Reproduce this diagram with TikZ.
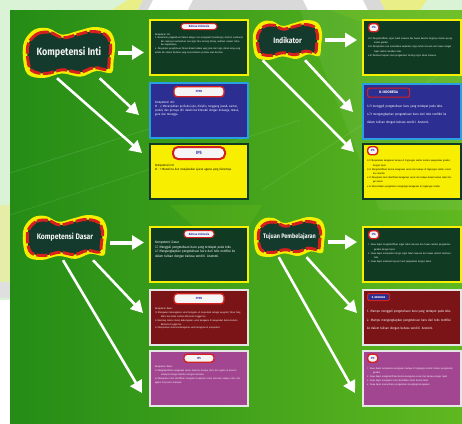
\documentclass[tikz,border=0pt]{standalone}
\usepackage{fontspec}
\setmainfont{Fira Sans}[FakeStretch=0.85]
\usetikzlibrary{positioning,calc,arrows.meta}

\definecolor{mint}{RGB}{218,243,214}
\definecolor{panelDark}{RGB}{36,140,22}
\definecolor{panelLight}{RGB}{96,184,32}
\definecolor{blobFill}{RGB}{20,58,45}
\definecolor{blobYellow}{RGB}{245,240,0}
\definecolor{blobRed}{RGB}{212,32,30}
\definecolor{boxGreen}{RGB}{16,58,34}
\definecolor{boxBlue}{RGB}{44,46,145}
\definecolor{boxSky}{RGB}{40,160,225}
\definecolor{boxYellow}{RGB}{248,238,0}
\definecolor{boxMaroon}{RGB}{122,20,22}
\definecolor{boxPurple}{RGB}{162,70,145}
\definecolor{pillText}{RGB}{50,50,170}

\newcommand{\tinytxt}{\fontsize{2.4}{3.6}\selectfont}
\newcommand{\smalltxt}{\fontsize{3.4}{4.5}\selectfont}
\newcommand{\itm}[1]{\par\hangindent=6pt\hangafter=1 #1}

\begin{document}
\begin{tikzpicture}[
    % gaya
    x=1pt, y=-1pt,
    box/.style={rectangle, minimum width=98pt, minimum height=55pt, line width=2pt, inner sep=0pt},
    box green/.style={box, fill=boxGreen, draw=blobYellow},
    box blue/.style={box, fill=boxBlue, draw=boxSky},
    box yellow/.style={box, fill=boxYellow, draw=boxGreen},
    box maroon/.style={box, fill=boxMaroon, draw=white!90!black},
    box purple/.style={box, fill=boxPurple, draw=white!90!black},
    pill/.style={rectangle, rounded corners=3pt, fill=white!92!gray, draw=blobRed, line width=1pt,
        text=pillText, font=\bfseries\fontsize{3}{3.5}\selectfont, inner sep=1pt},
    tag/.style={pill, fill=boxBlue, text=white, rounded corners=1.5pt, line width=1.2pt},
    txt/.style={text width=88pt, align=left, inner sep=0pt, text=white, font=\tinytxt},
    blob title/.style={text=white!90!gray, inner sep=0pt},
    blob ring/.style={fill=blobYellow},
    blob core/.style={fill=blobFill, draw=blobRed, line width=3pt, dash pattern=on 11pt off 2.5pt},
    arr/.style={draw=white, line width=2.6pt, -{Triangle[length=12pt,width=13pt]}},
    wide arr/.style={arr, line width=4pt, shorten <=3pt, shorten >=5pt,
        -{Triangle[length=12pt,width=14pt]}}
]
    \useasboundingbox (0,0) rectangle (462,423);

    % bentuk awan judul
    \def\blobcurve{plot[smooth cycle, tension=0.6] coordinates {(-0.97,-0.45) (-0.75,-0.9)
        (-0.45,-0.95) (-0.15,-0.7) (0.2,-0.85) (0.55,-1.0) (0.88,-0.85) (1.0,-0.35)
        (0.97,0.3) (0.92,0.8) (0.6,0.72) (0.25,0.95) (-0.15,0.82) (-0.55,1.0)
        (-0.9,0.85) (-1.0,0.2)}}

    % --- 1. Latar ---
    \fill[mint] (0,0) rectangle (462,423);
    \fill[white] (0,300) rectangle (10,423);
    \fill[gray!25] (0,282) rectangle (10,298);
    \fill[yellow!25!mint] (0,205) rectangle (10,282);
    \fill[yellow!40!mint] (112,10) -- (128,0) -- (143,0) -- (138,10) -- cycle;
    \fill[gray!30] (143,0) -- (153,0) -- (148,10) -- (138,10) -- cycle;
    \fill[white] (153,0) -- (193,0) -- (188,10) -- (148,10) -- cycle;
    \fill[gray!30] (193,0) -- (303,0) -- (308,10) -- (188,10) -- cycle;
    \fill[white] (303,0) -- (363,0) -- (368,10) -- (308,10) -- cycle;
    \fill[gray!30] (363,0) -- (380,0) -- (385,10) -- (368,10) -- cycle;
    \fill[yellow!40!mint] (380,0) -- (427,0) -- (420,10) -- (385,10) -- cycle;

    \shade[left color=panelDark, right color=panelLight] (10,10) rectangle (462,423);
    \fill[white, opacity=0.06] (300,10) -- (462,10) -- (462,210) -- (380,210) -- cycle;
    \fill[yellow!60!green, opacity=0.18] (330,10) -- (462,10) -- (462,60) -- cycle;
    \fill[yellow!60!green, opacity=0.15] (170,205) -- (262,205) -- (230,260) -- cycle;
    \draw[white, opacity=0.15, line width=0.6pt] (10,173) -- (250,97);
    \draw[white, opacity=0.12, line width=0.6pt] (10,215) -- (300,120);
    \draw[white, opacity=0.12, line width=0.6pt] (262,190) -- (462,60);

    % --- 2. Kotak isi ---
    \foreach \nm/\x/\y/\st in {
        b1/199/47.5/box green, b2/199/110.5/box blue, b3/199/171.5/box yellow,
        b4/412/47.5/box green, b5/412/111/box blue, b6/412/171.5/box yellow,
        b7/199/254.5/box green, b8/199/317.5/box maroon, b9/199/378/box purple,
        b10/412/254.5/box green, b11/412/317.5/box maroon, b12/412/378/box purple}
        \node[\st] (\nm) at (\x,\y) {};

    % label mata pelajaran
    \node[pill, minimum width=36pt, minimum height=6pt, below=4pt of b1.north] (h1) {Bahasa Indonesia};
    \node[pill, minimum width=50pt, minimum height=10pt, line width=1.4pt, below=4pt of b2.north] (h2) {PPKN};
    \node[pill, minimum width=52pt, minimum height=12pt, line width=2pt, rounded corners=5pt,
        font=\bfseries\fontsize{4.5}{5}\selectfont, below=3pt of b3.north] (h3) {IPS};
    \node[pill, minimum width=10pt, minimum height=8pt, line width=1.4pt, below right=4pt and 6pt of b4.north west] (h4) {IPA};
    \node[tag, minimum width=42pt, minimum height=9pt, font=\bfseries\fontsize{3.6}{4}\selectfont,
        below right=5pt and 5pt of b5.north west] (h5) {B. INDONESIA};
    \node[pill, minimum width=10pt, minimum height=8pt, line width=1.4pt, below right=3pt and 5pt of b6.north west] (h6) {IPS};
    \node[pill, minimum width=30pt, minimum height=7pt, below=4pt of b7.north] (h7) {Bahasa Indonesia};
    \node[pill, minimum width=50pt, minimum height=10pt, line width=1.4pt, below=4pt of b8.north] (h8) {PPKN};
    \node[pill, minimum width=30pt, minimum height=8pt, line width=1.4pt, below=4pt of b9.north] (h9) {IPS};
    \node[pill, minimum width=10pt, minimum height=8pt, line width=1.4pt, below right=4pt and 6pt of b10.north west] (h10) {IPA};
    \node[tag, minimum width=22pt, minimum height=7pt, font=\bfseries\fontsize{2.6}{3}\selectfont,
        below right=4pt and 5pt of b11.north west] (h11) {B. INDONESIA};
    \node[pill, minimum width=10pt, minimum height=8pt, line width=1.4pt, below right=4pt and 5pt of b12.north west] (h12) {IPS};

    % teks isi
    \node[txt, below=3pt of h1] (t1) {Kompetensi Inti:
        \itm{3. Memahami pengetahuan faktual dengan cara mengamati (mendengar, melihat, membaca) dan menanya berdasarkan rasa ingin tahu tentang dirinya, makhluk ciptaan Tuhan dan kegiatannya.}
        \itm{4. Menyajikan pengetahuan faktual dalam bahasa yang jelas dan logis, dalam karya yang estetis dan dalam tindakan yang mencerminkan perilaku anak beriman.}};
    \node[txt, font=\fontsize{3.1}{4.3}\selectfont, below=3pt of h2] (t2) {Kompetensi Inti:
        \itm{KI - 2 Menunjukkan perilaku jujur, disiplin, tanggung jawab, santun, peduli, dan percaya diri dalam berinteraksi dengan keluarga, teman, guru dan tetangga.}};
    \node[txt, text=black, font=\fontsize{3}{4.3}\selectfont, below=4pt of h3] (t3) {Kompetensi Inti:
        \itm{KI - 1 Menerima dan menjalankan ajaran agama yang dianutnya.}};
    \node[txt, text width=86pt, font=\fontsize{2.4}{4.4}\selectfont, below=2pt of h4.south west, anchor=north west] (t4) {%
        \itm{3.8.1 Mengidentifikasi organ tubuh manusia dan hewan beserta fungsinya melalui pengamatan gambar.}
        \itm{3.8.2 Menjelaskan cara memelihara kesehatan organ tubuh manusia dan hewan dengan tepat setelah membaca teks.}
        \itm{4.8.1 Membuat laporan hasil pengamatan tentang organ tubuh manusia.}};
    \node[txt, text width=86pt, font=\fontsize{3.3}{8}\selectfont, below=2pt of h5.south west, anchor=north west] (t5) {%
        \itm{3.7.1 menggali pengetahuan baru yang terdapat pada teks.}
        \itm{4.7.1 mengungkapkan pengetahuan baru dari teks nonfiksi ke dalam tulisan dengan bahasa sendiri. Anatomi.}};
    \node[txt, text width=86pt, text=black, font=\fontsize{2.4}{4.2}\selectfont, below=2pt of h6.south west, anchor=north west] (t6) {%
        \itm{3.2.1 Menjelaskan keragaman budaya di lingkungan sekitar melalui pengamatan gambar dengan tepat.}
        \itm{3.2.2 Mengidentifikasi bentuk keragaman sosial dan budaya di lingkungan sekitar rumah dan sekolah.}
        \itm{4.2.1 Menyajikan hasil identifikasi keragaman sosial dan budaya dalam bentuk tabel dengan benar.}
        \itm{4.2.2 Menceritakan pengalaman menghargai keragaman di lingkungan sekitar.}};
    \node[txt, font=\smalltxt, below=3pt of h7] (t7) {Kompetensi Dasar
        \itm{3.7 Menggali pengetahuan baru yang terdapat pada teks.}
        \itm{4.7 Mengungkapkan pengetahuan baru dari teks nonfiksi ke dalam tulisan dengan bahasa sendiri. Anatomi.}};
    \node[txt, font=\fontsize{2.4}{3.9}\selectfont, below=3pt of h8] (t8) {Kompetensi Dasar:
        \itm{1.3 Mensyukuri keberagaman umat beragama di masyarakat sebagai anugerah Tuhan Yang Maha Esa dalam konteks Bhinneka Tunggal Ika.}
        \itm{2.3 Bersikap toleran dalam keberagaman umat beragama di masyarakat dalam konteks Bhinneka Tunggal Ika.}
        \itm{3.3 Menjelaskan makna keberagaman umat beragama di masyarakat.}};
    \node[txt, font=\fontsize{2.4}{3.9}\selectfont, below=3pt of h9] (t9) {Kompetensi Dasar:
        \itm{3.2 Mengidentifikasi keragaman sosial, ekonomi, budaya, etnis, dan agama di provinsi setempat sebagai identitas bangsa Indonesia.}
        \itm{4.2 Menyajikan hasil identifikasi mengenai keragaman sosial, ekonomi, budaya, etnis, dan agama di provinsi setempat.}};
    \node[txt, text width=86pt, font=\fontsize{2.4}{4.2}\selectfont, below=2pt of h10.south west, anchor=north west] (t10) {%
        \itm{1. Siswa dapat mengidentifikasi organ tubuh manusia dan hewan melalui pengamatan gambar dengan tepat.}
        \itm{2. Siswa dapat menjelaskan fungsi organ tubuh manusia dan hewan setelah membaca teks.}
        \itm{3. Siswa dapat membuat laporan hasil pengamatan dengan benar.}};
    \node[txt, text width=86pt, font=\fontsize{3.3}{8.5}\selectfont, below=3pt of h11.south west, anchor=north west] (t11) {%
        \itm{1. Mampu menggali pengetahuan baru yang terdapat pada teks.}
        \itm{2. Mampu mengungkapkan pengetahuan baru dari teks nonfiksi ke dalam tulisan dengan bahasa sendiri. Anatomi.}};
    \node[txt, text width=86pt, font=\fontsize{2.4}{4}\selectfont, below=2pt of h12.south west, anchor=north west] (t12) {%
        \itm{1. Siswa dapat menjelaskan keragaman budaya di lingkungan sekitar melalui pengamatan gambar.}
        \itm{2. Siswa dapat mengidentifikasi bentuk keragaman sosial dan budaya dengan tepat.}
        \itm{3. Siswa dapat menyajikan hasil identifikasi dalam bentuk tabel.}
        \itm{4. Siswa dapat menceritakan pengalaman menghargai keragaman.}};

    % --- 3. Awan judul ---
    \foreach \cx/\cy/\a/\b in {69/52.5/46/25.5, 287.5/40/34.5/20, 65/237.5/42/22.5, 289.5/237/35.5/20} {
        \fill[blob ring, shift={(\cx,\cy)}, xscale=\a, yscale=\b] \blobcurve;
        \path[blob core, shift={(\cx,\cy)}, xscale=\a-4.5, yscale=\b-4.5] \blobcurve;
    }
    \node[blob title, minimum width=92pt, minimum height=51pt, font=\bfseries\fontsize{10.5}{11}\selectfont] (ki) at (69,52.5) {Kompetensi Inti};
    \node[blob title, minimum width=69pt, minimum height=40pt, font=\bfseries\fontsize{8}{9}\selectfont] (ind) at (287.5,40) {Indikator};
    \node[blob title, minimum width=84pt, minimum height=45pt, font=\bfseries\fontsize{8}{9}\selectfont] (kd) at (65,237.5) {Kompetensi Dasar};
    \node[blob title, minimum width=71pt, minimum height=40pt, font=\bfseries\fontsize{6.5}{7.5}\selectfont] (tp) at (289.5,237) {Tujuan Pembelajaran};

    % --- 4. Panah ---
    \coordinate (kdout) at ([yshift=-5pt]kd.east);
    \coordinate (tpout) at ([yshift=-5pt]tp.east);

    \draw[wide arr] (ki.east) -- (ki.east -| b1.west);
    \draw[arr] (ki.-40) -- ($(b2.west)+(-10,4.5)$);
    \draw[arr] (ki.-115) -- ($(b3.west)+(-7,-18.5)$);

    \draw[wide arr] (ind.east) -- (ind.east -| b4.west);
    \draw[arr] (ind.-49) -- ($(b5.west)+(-9,1)$);
    \draw[arr] (ind.-141) -- ($(b6.west)+(-8,-19.5)$);

    \draw[wide arr] (kdout) -- (kdout -| b7.west);
    \draw[arr] (kd.-39) -- ($(b8.west)+(-6,-4.5)$);
    \draw[arr] (kd.-95) -- ($(b9.west)+(-7,15)$);

    \draw[wide arr] (tpout) -- (tpout -| b10.west);
    \draw[arr] (tp.-50) -- ($(b11.west)+(-5,-4.5)$);
    \draw[arr] (tp.-118) -- ($(b12.west)+(-7,15)$);

\end{tikzpicture}
\end{document}
